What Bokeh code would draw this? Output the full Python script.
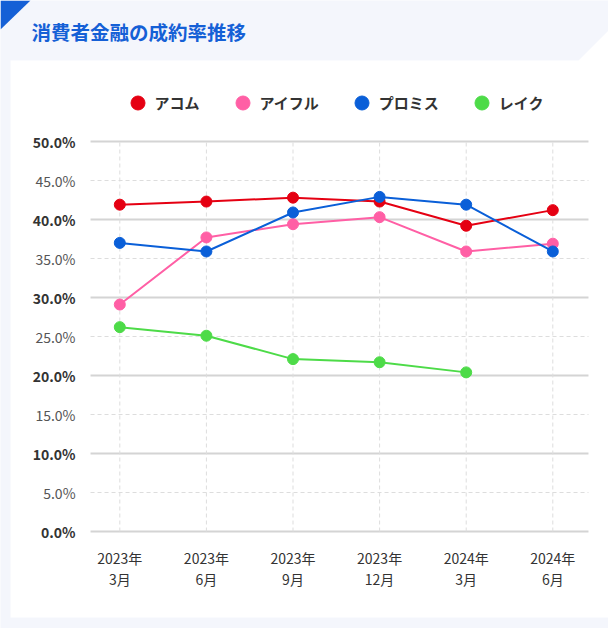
from bokeh.plotting import figure
from bokeh.models import (ColumnDataSource, Legend, LegendItem, LabelSet, Label,
                          PolyAnnotation, Range1d)
from bokeh.core.properties import value
from bokeh.embed import file_html
from bokeh.resources import INLINE

# ---------------- data ----------------
period_years = ["2023年", "2023年", "2023年", "2023年", "2024年", "2024年"]
period_months = ["3月", "6月", "9月", "12月", "3月", "6月"]
acom = [41.9, 42.3, 42.8, 42.3, 39.2, 41.2]
aiful = [29.1, 37.7, 39.4, 40.3, 35.9, 36.9]
promise = [37.0, 35.9, 40.9, 42.9, 41.9, 35.9]
lake = [26.2, 25.1, 22.1, 21.7, 20.4]
series_names = ["アコム", "アイフル", "プロミス", "レイク"]
series_colors = ["#e50012", "#ff5fa5", "#0a5fd8", "#4ddb48"]
major_ticks = [0, 10, 20, 30, 40, 50]
minor_ticks = [5, 15, 25, 35, 45]
title_text = "消費者金融の成約率推移"

# ---------------- layout constants ----------------
FONT = "Noto Sans CJK JP"
W, H = 608, 628
X0_PX, PX_PER_X = 119.3, 86.6      # canvas x of the first period, px per period
Y0_PX, PX_PER_Y = 531.0, 7.8       # canvas y of 0 %, px per 1 %
PLOT_X = (-0.338, 5.412)           # plotting area extent (data units)
PLOT_Y = (0, 50)

x_range = Range1d(-X0_PX / PX_PER_X, (W - X0_PX) / PX_PER_X)
y_range = Range1d(-(H - Y0_PX) / PX_PER_Y, Y0_PX / PX_PER_Y)

p = figure(width=W, height=H, output_backend="svg", toolbar_location=None,
           x_range=x_range, y_range=y_range, x_axis_type=None, y_axis_type=None,
           min_border=0)
p.background_fill_color = "#f4f6fc"
p.border_fill_color = "#f4f6fc"
p.outline_line_color = None


def sy(py):  # canvas px from top -> frame screen units from bottom
    return H - py


# decorative card + corner triangle
p.add_layout(PolyAnnotation(xs=[10, 578, 608, 608, 10],
                            ys=[sy(60), sy(60), sy(30), sy(617), sy(617)],
                            xs_units="screen", ys_units="screen",
                            fill_color="white", fill_alpha=1, line_color=None, level="image"))
p.add_layout(PolyAnnotation(xs=[0, 30, 0], ys=[sy(0), sy(0), sy(29)],
                            xs_units="screen", ys_units="screen",
                            fill_color="#1560d6", fill_alpha=1, line_color=None, level="image"))

p.add_layout(Label(x=31, y=sy(31), x_units="screen", y_units="screen", text=title_text,
                   text_font=FONT, text_font_size="19.5px", text_font_style="bold",
                   text_color="#1560d6", text_baseline="middle"))

# grid lines
n = len(period_years)
p.segment(x0=[PLOT_X[0]] * len(major_ticks), x1=[PLOT_X[1]] * len(major_ticks),
          y0=major_ticks, y1=major_ticks, line_color="#d4d4d4", line_width=2)
p.segment(x0=[PLOT_X[0]] * len(minor_ticks), x1=[PLOT_X[1]] * len(minor_ticks),
          y0=minor_ticks, y1=minor_ticks, line_color="#dddddd", line_width=1, line_dash="4 3")
p.segment(x0=list(range(n)), x1=list(range(n)), y0=[PLOT_Y[0]] * n, y1=[PLOT_Y[1]] * n,
          line_color="#dddddd", line_width=1, line_dash="4 3")

# tick labels
maj_src = ColumnDataSource(dict(x=[PLOT_X[0]] * len(major_ticks), y=major_ticks,
                                t=[f"{v:.1f}%" for v in major_ticks]))
min_src = ColumnDataSource(dict(x=[PLOT_X[0]] * len(minor_ticks), y=minor_ticks,
                                t=[f"{v:.1f}%" for v in minor_ticks]))
p.add_layout(LabelSet(x="x", y="y", text="t", source=maj_src, x_offset=-15,
                      text_align="right", text_baseline="middle", text_font=value(FONT),
                      text_font_size="14px", text_font_style="bold", text_color="#333333"))
p.add_layout(LabelSet(x="x", y="y", text="t", source=min_src, x_offset=-15,
                      text_align="right", text_baseline="middle", text_font=value(FONT),
                      text_font_size="14px", text_color="#555555"))

xl_src = ColumnDataSource(dict(x=list(range(n)), y=[PLOT_Y[0]] * n,
                               yr=period_years, mo=period_months))
p.add_layout(LabelSet(x="x", y="y", text="yr", source=xl_src, y_offset=-26,
                      text_align="center", text_baseline="middle", text_font=value(FONT),
                      text_font_size="14px", text_color="#333333"))
p.add_layout(LabelSet(x="x", y="y", text="mo", source=xl_src, y_offset=-47.5,
                      text_align="center", text_baseline="middle", text_font=value(FONT),
                      text_font_size="14px", text_color="#333333"))

# series
items = []
for name, color, vals in zip(series_names, series_colors, [acom, aiful, promise, lake]):
    src = ColumnDataSource(dict(x=list(range(len(vals))), y=vals))
    p.line("x", "y", source=src, line_color=color, line_width=2)
    r = p.scatter("x", "y", source=src, size=11, fill_color=color, line_color=color)
    items.append(LegendItem(label=name, renderers=[r]))

legend = Legend(items=items, orientation="horizontal", location=(119.5, sy(119.5)),
                glyph_width=35, glyph_height=35, label_standoff=0, spacing=25,
                padding=0, margin=0, border_line_color=None, background_fill_alpha=0,
                label_text_font=FONT, label_text_font_size="15px",
                label_text_font_style="bold", label_text_color="#333333")
p.add_layout(legend)

open("out.html", "w").write(file_html(p, INLINE))
